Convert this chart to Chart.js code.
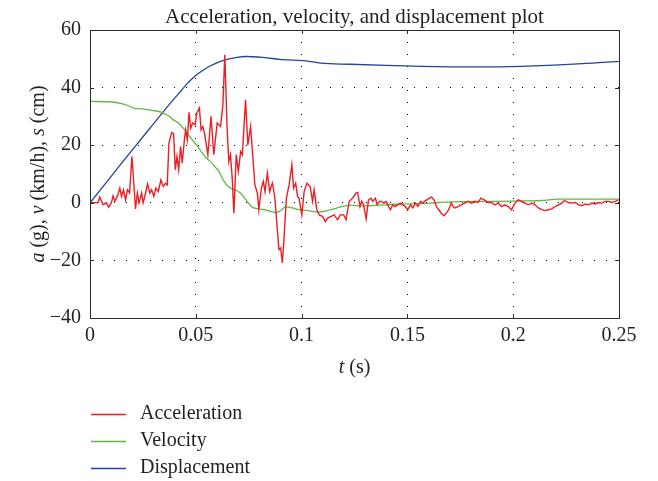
<!DOCTYPE html>
<html>
<head>
<meta charset="utf-8">
<script src="https://cdn.jsdelivr.net/npm/chart.js@4/dist/chart.umd.min.js"></script>
<style>
  html, body { margin: 0; padding: 0; background: #ffffff; }
  #wrap { position: relative; width: 658px; height: 481px; }
</style>
</head>
<body>
<div id="wrap"><canvas id="c" width="658" height="481"></canvas></div>
<script>
const chartTitle = 'Acceleration, velocity, and displacement plot';
const xTickLabels = ['0', '0.05', '0.1', '0.15', '0.2', '0.25'];
const yTickLabels = ['\u221240', '\u221220', '0', '20', '40', '60'];
const seriesNames = ['Acceleration', 'Velocity', 'Displacement'];

const accelT = [0, .0038, .0046, .0062, .0077, .0089, .0101, .0109, .0117, .0130, .0141, .0149, .0158, .0168, .0177, .0187, .0198, .0207, .0215, .0224, .0232, .0244, .0251, .0259, .0272, .0283, .0291, .0302, .0311, .0323, .0335, .0346, .0357, .0365, .0373, .0386, .0395, .0403, .0411, .0419, .0428, .0436, .0446, .0452, .0460, .0468, .0476, .0485, .0497, .0504, .0517, .0525, .0533, .0541, .0557, .0572, .0585, .0601, .0617, .0628, .0637, .0648, .0656, .0664, .0672, .0680, .0691, .0701, .0712, .0720, .0735, .0746, .0759, .0770, .0779, .0791, .0798, .0810, .0819, .0827, .0838, .0849, .0862, .0873, .0886, .0893, .0901, .0909, .0917, .0928, .0941, .0954, .0962, .0972, .0981, .0988, .1001, .1012, .1025, .1040, .1052, .1059, .1072, .1083, .1099, .1112, .1123, .1139, .1154, .1170, .1183, .1199, .1210, .1225, .1241, .1257, .1265, .1276, .1284, .1293, .1305, .1316, .1328, .1336, .1349, .1357, .1368, .1376, .1389, .1399, .1411, .1420, .1431, .1442, .1455, .1467, .1479, .1490, .1502, .1515, .1526, .1537, .1550, .1562, .1574, .1581, .1597, .1613, .1626, .1637, .1648, .1660, .1673, .1684, .1695, .1708, .1716, .1724, .1740, .1755, .1771, .1787, .1803, .1818, .1834, .1847, .1863, .1882, .1898, .1913, .1929, .1945, .1961, .1977, .1992, .2008, .2024, .2040, .2056, .2072, .2087, .2103, .2119, .2135, .2150, .2166, .2182, .2198, .2214, .2230, .2242, .2261, .2277, .2293, .2309, .2324, .2340, .2356, .2372, .2388, .2404, .2419, .2435, .2451, .2467, .2483, .2498];
const accelA = [0, 0.1, 2.0, -0.7, 0, -1.5, 0, 2.4, 0.5, 2.4, 5.1, 2.2, 4.5, 1.0, 4.5, 3.4, 16.1, 6.8, -2.1, 3.4, 0, 3.4, 0, 2.2, 6.5, 3.4, 4.5, 2.2, 5.1, 3.9, 8.0, 5.7, 6.8, 6.2, 20.7, 24.4, 24.0, 11.5, 16.1, 11.5, 19.5, 13.8, 21.9, 25.3, 21.9, 31.4, 25.9, 27.7, 27.1, 31.1, 32.9, 25.3, 26.5, 24.2, 16.7, 30.0, 16.7, 27.7, 26.5, 34.0, 51.4, 25.9, 14.3, 16.7, 8.6, -3.6, 16.7, 10.9, 17.8, 16.7, 35.8, 20.1, 26.5, 15.5, 6.2, 3.4, -2.4, 5.1, 7.4, 3.9, 10.3, 3.9, 6.8, 2.2, -10.0, -16.3, -15.7, -20.9, -12.3, 1.6, 6.2, 13.2, 5.1, 6.8, 2.2, 1.6, -4.2, 3.9, 6.8, 5.7, 0.5, 4.5, -2.4, -4.2, -4.7, -6.5, -5.3, -4.7, -4.2, -5.9, -4.2, -4.2, -5.9, 0.5, 1.6, 3.4, 3.6, -1.3, 0.5, -0.7, -5.6, 1.0, 1.6, 0.5, 1.6, -0.7, 0.5, 0.5, -0.1, 0.5, -1.3, -2.4, -0.7, -1.3, -0.7, -0.1, -0.7, -1.3, -2.4, -0.7, -1.8, -0.1, -1.3, 0.5, -0.1, 0.5, 1.3, 2.0, 1.0, -1.3, -2.4, -3.6, -4.5, -3.6, -2.4, -0.1, -1.3, -1.8, -1.3, -0.7, -0.1, 0.5, -0.1, 0.5, 0.1, 1.6, 1.0, 0.1, 0.1, -0.7, -0.1, -1.3, -0.7, -1.3, -2.4, -0.1, 1.0, 0.5, -0.1, -0.7, -0.1, -0.7, -1.8, -2.4, -2.7, -2.4, -2.1, -1.3, -0.7, -0.1, 0.8, 0.1, -0.1, 0.1, -0.7, -1.0, -0.4, -0.7, -0.1, -0.4, 0.1, -0.1, 0.5, 0.5, 0.1, 0.5, 1.0];

const velT = [0, .0103, .0150, .0182, .0206, .0245, .0293, .0340, .0354, .0372, .0394, .0420, .0441, .0465, .0498, .0512, .0530, .0546, .0569, .0593, .0609, .0632, .0656, .0688, .0712, .0735, .0767, .0798, .0830, .0878, .0901, .0925, .0957, .0988, .1020, .1083, .1139, .1233, .1276, .1350, .1450, .1550, .1650, .1750, .1900, .2000, .2135, .2214, .2372, .2500];
const velV = [35.2, 35.0, 34.4, 33.7, 32.9, 32.6, 32.1, 31.4, 30.8, 30.2, 28.8, 27.6, 25.9, 23.6, 20.5, 19.3, 17.3, 15.8, 14.3, 12.3, 10.9, 7.6, 5.5, 4.4, 3.3, 1.2, -1.5, -2.1, -2.5, -3.4, -2.7, -1.4, -1.8, -2.4, -2.6, -3.2, -2.4, -0.8, -1.1, -0.9, -0.5, -0.3, 0.1, 0.4, 0.5, 0.6, 0.8, 1.3, 1.3, 1.3];

const dispT = [0, .0100, .0200, .0300, .0380, .0420, .0450, .0480, .0510, .0540, .0570, .0600, .0640, .0690, .0735, .0815, .0909, .1020, .1090, .1230, .1400, .1566, .1800, .2040, .2325, .2500];
const dispS = [0, 9.2, 18.4, 27.4, 34.6, 38.0, 40.6, 42.9, 44.8, 46.3, 47.6, 48.6, 49.6, 50.4, 50.8, 50.5, 49.7, 49.3, 48.5, 48.1, 47.7, 47.4, 47.2, 47.4, 48.3, 49.1];

const colors = ['#ee1d23', '#62b846', '#23439b'];
const textColor = '#231f20';
const FONT = '"Liberation Serif", "Times New Roman", serif';

function pts(xs, ys) { return xs.map((t, i) => ({ x: t, y: ys[i] })); }

function drawMixed(ctx, parts, cx, cy, size) {
  let total = 0;
  parts.forEach(p => { ctx.font = (p[1] ? 'italic ' : '') + size + 'px ' + FONT; p.w = ctx.measureText(p[0]).width; total += p.w; });
  let xx = cx - total / 2;
  ctx.textAlign = 'left';
  ctx.textBaseline = 'middle';
  parts.forEach(p => { ctx.font = (p[1] ? 'italic ' : '') + size + 'px ' + FONT; ctx.fillText(p[0], xx, cy); xx += p.w; });
}

const overlay = {
  id: 'overlay',
  afterDraw(chart) {
    const { ctx, chartArea: a, scales } = chart;
    const xs = scales.x, ys = scales.y;
    ctx.save();
    ctx.strokeStyle = '#2b2b2b';
    ctx.lineWidth = 1;
    ctx.strokeRect(Math.round(a.left) + 0.5, Math.round(a.top) + 0.5, Math.round(a.right - a.left), Math.round(a.bottom - a.top));
    ctx.beginPath();
    xs.ticks.forEach(t => {
      const px = Math.round(xs.getPixelForValue(t.value)) + 0.5;
      ctx.moveTo(px, a.bottom); ctx.lineTo(px, a.bottom - 4);
      ctx.moveTo(px, a.top); ctx.lineTo(px, a.top + 4);
    });
    ys.ticks.forEach(t => {
      const py = Math.round(ys.getPixelForValue(t.value)) + 0.5;
      ctx.moveTo(a.left, py); ctx.lineTo(a.left + 4, py);
      ctx.moveTo(a.right, py); ctx.lineTo(a.right - 4, py);
    });
    ctx.stroke();

    ctx.fillStyle = textColor;
    ctx.font = '21px ' + FONT;
    ctx.textAlign = 'center';
    ctx.textBaseline = 'alphabetic';
    ctx.fillText(chartTitle, (a.left + a.right) / 2, 23);

    drawMixed(ctx, [['t', true], [' (s)', false]], (a.left + a.right) / 2, 368, 20);

    ctx.save();
    ctx.translate(39, (a.top + a.bottom) / 2);
    ctx.rotate(-Math.PI / 2);
    drawMixed(ctx, [['a', true], [' (g), ', false], ['v', true], [' (km/h), ', false], ['s', true], [' (cm)', false]], 0, 0, 20);
    ctx.restore();

    const rowsY = [414, 441, 468];
    chart.data.datasets.forEach((ds, i) => {
      ctx.strokeStyle = ds.borderColor;
      ctx.lineWidth = 1.3;
      ctx.beginPath();
      ctx.moveTo(91, rowsY[i] + 0.5);
      ctx.lineTo(126, rowsY[i] + 0.5);
      ctx.stroke();
      ctx.fillStyle = textColor;
      ctx.font = '20px ' + FONT;
      ctx.textAlign = 'left';
      ctx.textBaseline = 'middle';
      ctx.fillText(ds.label, 140, rowsY[i]);
    });
    ctx.restore();
  }
};

new Chart(document.getElementById('c'), {
  type: 'line',
  data: {
    datasets: [
      { label: seriesNames[0], data: pts(accelT, accelA), borderColor: colors[0], borderWidth: 1.4 },
      { label: seriesNames[1], data: pts(velT, velV), borderColor: colors[1], borderWidth: 1.3, cubicInterpolationMode: 'monotone' },
      { label: seriesNames[2], data: pts(dispT, dispS), borderColor: colors[2], borderWidth: 1.3, cubicInterpolationMode: 'monotone' }
    ]
  },
  options: {
    responsive: false,
    animation: false,
    devicePixelRatio: 1,
    elements: { point: { radius: 0 }, line: { tension: 0, fill: false } },
    layout: { padding: { top: 30, left: 0, right: 39, bottom: 103 } },
    plugins: { legend: { display: false }, title: { display: false }, tooltip: { enabled: false } },
    scales: {
      x: {
        type: 'linear', min: 0, max: 0.25,
        afterBuildTicks: s => { s.ticks = xTickLabels.map(v => ({ value: parseFloat(v) })); },
        afterFit: s => { s.height = 60; },
        ticks: { callback: (v, i) => xTickLabels[i], font: { family: FONT, size: 20 }, color: textColor, padding: 6, maxRotation: 0, autoSkip: false },
        grid: { color: '#000000', lineWidth: 1, drawTicks: false },
        border: { display: false, dash: [1, 11] }
      },
      y: {
        type: 'linear', min: -40, max: 60,
        afterBuildTicks: s => { s.ticks = yTickLabels.map(v => ({ value: parseFloat(v.replace('\u2212', '-')) })); },
        afterFit: s => { s.width = 90; },
        ticks: { callback: (v, i) => yTickLabels[i], font: { family: FONT, size: 20 }, color: textColor, padding: 9, autoSkip: false },
        grid: { color: '#000000', lineWidth: 1, drawTicks: false },
        border: { display: false, dash: [1, 11] }
      }
    }
  },
  plugins: [overlay]
});
</script>
</body>
</html>
